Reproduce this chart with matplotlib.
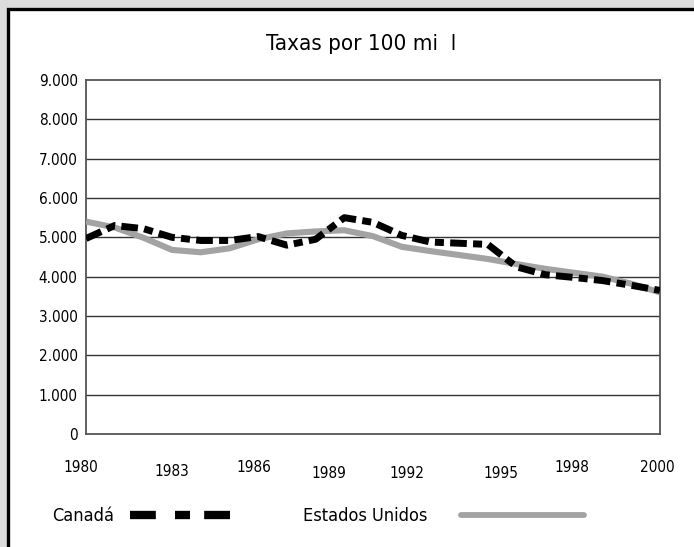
import matplotlib
matplotlib.use("Agg")
import matplotlib.pyplot as plt
import matplotlib.patches as mpatches
from matplotlib.lines import Line2D

plt.rcParams['font.family'] = ['DejaVu Sans']
plt.rcParams['font.stretch'] = 'condensed'

# ---------------- data ----------------
years = list(range(1980, 2001))
canada = [4970, 5300, 5220, 5000, 4920, 4920, 5020, 4800, 4950, 5500, 5380,
          5050, 4880, 4850, 4820, 4250, 4050, 3980, 3900, 3780, 3650]
eua = [5400, 5250, 4990, 4680, 4620, 4720, 4950, 5100, 5150, 5180, 5030,
       4760, 4650, 4550, 4450, 4320, 4200, 4100, 4000, 3820, 3600]
yticks = [0, 1000, 2000, 3000, 4000, 5000, 6000, 7000, 8000, 9000]
ytick_labels = ['0', '1.000', '2.000', '3.000', '4.000', '5.000', '6.000',
                '7.000', '8.000', '9.000']
xtick_labels = ['1980', '1983', '1986', '1989', '1992', '1995', '1998', '2000']
title = 'Taxas por 100 mi  l'
series_names = ['Canadá', 'Estados Unidos']

# ---------------- layout ----------------
W, H = 694, 547
fig = plt.figure(figsize=(W / 100, H / 100), dpi=100)
fig.patch.set_facecolor('#dcdcdc')

# white card with black border
card = mpatches.Rectangle((8 / W, -0.1), 1.2, 0.1 + 1 - 8.5 / H,
                          transform=fig.transFigure, facecolor='white',
                          edgecolor='black', linewidth=2.4, zorder=-5)
fig.patches.append(card)

ax_l, ax_r, ax_t, ax_b = 86, 660, 80, 434
ax = fig.add_axes([ax_l / W, 1 - ax_b / H, (ax_r - ax_l) / W, (ax_b - ax_t) / H])
ax.set_facecolor('none')
ax.set_zorder(2)

ax.set_xlim(1980, 2000)
ax.set_ylim(0, 9000)

for v in yticks[1:-1]:
    ax.axhline(v, color='#333333', linewidth=1.0, zorder=1)

for s in ax.spines.values():
    s.set_color('#555555')
    s.set_linewidth(1.3)

ax.plot(years, eua, color='#a3a3a3', linewidth=4.4, solid_capstyle='butt',
        zorder=3)
ax.plot(years, canada, color='black', linewidth=5.0,
        dashes=(2.4, 0.9, 1.3, 0.9), dash_capstyle='butt', zorder=4)

ax.set_yticks(yticks)
ax.set_yticklabels(ytick_labels)
ax.tick_params(axis='y', length=0, pad=6, labelsize=11)
ax.set_xticks([])

# x labels at the places they appear in the reference
xlabel_px = [81, 172, 254, 329, 407, 501, 572, 657]
xlabel_ypx = [467, 472, 467, 473, 473, 473, 467, 467]
for lab, xp, yp in zip(xtick_labels, xlabel_px, xlabel_ypx):
    fig.text(xp / W, 1 - yp / H, lab, ha='center', va='center', fontsize=11)

fig.text(361 / W, 1 - 44 / H, title, ha='center', va='center', fontsize=16)

# legends (text first, then sample)
h_can = Line2D([], [], color='black', linewidth=6,
               dashes=(3.1, 2.3, 1.8, 1.7), dash_capstyle='butt')
h_us = Line2D([], [], color='#a3a3a3', linewidth=4.2, solid_capstyle='round')
fs = 13
em = fs * 100 / 72
leg1 = fig.legend([h_can], [series_names[0]], loc='center left',
                  bbox_to_anchor=(52 / W, 1 - 516 / H), frameon=False,
                  markerfirst=False, handlelength=105 / em,
                  handletextpad=16 / em, borderpad=0, borderaxespad=0,
                  fontsize=fs)
leg2 = fig.legend([h_us], [series_names[1]], loc='center left',
                  bbox_to_anchor=(303 / W, 1 - 516 / H), frameon=False,
                  markerfirst=False, handlelength=123 / em,
                  handletextpad=34 / em, borderpad=0, borderaxespad=0,
                  fontsize=fs)

fig.savefig('out.png', dpi=100, facecolor=fig.get_facecolor())
